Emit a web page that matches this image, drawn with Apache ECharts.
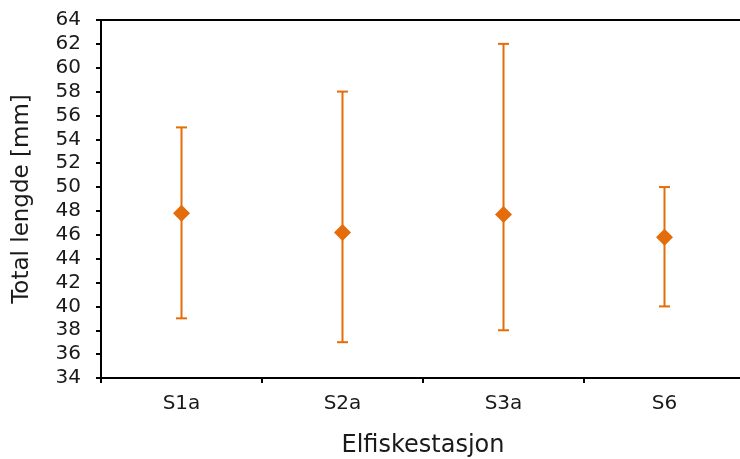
<!DOCTYPE html>
<html><head><meta charset="utf-8">
<script src="https://cdn.jsdelivr.net/npm/echarts@6/dist/echarts.min.js"></script>
<style>html,body{margin:0;padding:0;background:#fff}#c{width:740px;height:459px}</style>
</head><body><div id="c"></div>
<script>
const categories = ['S1a', 'S2a', 'S3a', 'S6'];
const meanValues = [47.8, 46.2, 47.7, 45.8];
const minValues = [39, 37, 38, 40];
const maxValues = [55, 58, 62, 50];
const yMin = 34, yMax = 64, yStep = 2;

const color = '#E46C0A';
const textColor = '#1a1a1a';
const font = 'DejaVu Sans, Verdana, sans-serif';
const chart = echarts.init(document.getElementById('c'), null, {renderer: 'canvas'});
const errData = categories.map((c, i) => [i, minValues[i], maxValues[i]]);
chart.setOption({
  animation: false,
  grid: {left: 101, top: 20, width: 644, height: 358, outerBoundsMode: 'none', containLabel: false,
         show: true, borderColor: '#000', borderWidth: 2, backgroundColor: 'transparent'},
  xAxis: {
    type: 'category', data: categories,
    axisLine: {lineStyle: {color: '#000', width: 2}},
    axisTick: {show: true, inside: false, length: 5, lineStyle: {color: '#000', width: 2}, alignWithLabel: false},
    axisLabel: {color: textColor, fontSize: 20, fontFamily: font, margin: 16},
    name: 'Elfiskestasjon', nameLocation: 'middle', nameGap: 56,
    nameTextStyle: {color: textColor, fontSize: 24, fontFamily: font}
  },
  yAxis: {
    type: 'value', min: yMin, max: yMax, interval: yStep,
    axisLine: {show: true, lineStyle: {color: '#000', width: 2}},
    axisTick: {show: true, length: 5, lineStyle: {color: '#000', width: 2}},
    splitLine: {show: false},
    axisLabel: {color: textColor, fontSize: 20, fontFamily: font, margin: 20},
    name: 'Total lengde [mm]', nameLocation: 'middle', nameGap: 67,
    nameTextStyle: {color: textColor, fontSize: 23, fontFamily: font}
  },
  series: [
    {
      type: 'custom',
      data: errData,
      renderItem: function (params, api) {
        const x = api.value(0);
        const lo = api.coord([x, api.value(1)]);
        const hi = api.coord([x, api.value(2)]);
        const hw = 5.5;
        const st = {stroke: color, lineWidth: 2};
        return {type: 'group', children: [
          {type: 'line', shape: {x1: lo[0], y1: lo[1], x2: hi[0], y2: hi[1]}, style: st},
          {type: 'line', shape: {x1: lo[0] - hw, y1: lo[1], x2: lo[0] + hw, y2: lo[1]}, style: st},
          {type: 'line', shape: {x1: hi[0] - hw, y1: hi[1], x2: hi[0] + hw, y2: hi[1]}, style: st}
        ]};
      },
      z: 2
    },
    {
      type: 'scatter', data: meanValues, symbol: 'diamond', symbolSize: [17, 17],
      itemStyle: {color: color, opacity: 1}, z: 3
    }
  ]
});
</script></body></html>
